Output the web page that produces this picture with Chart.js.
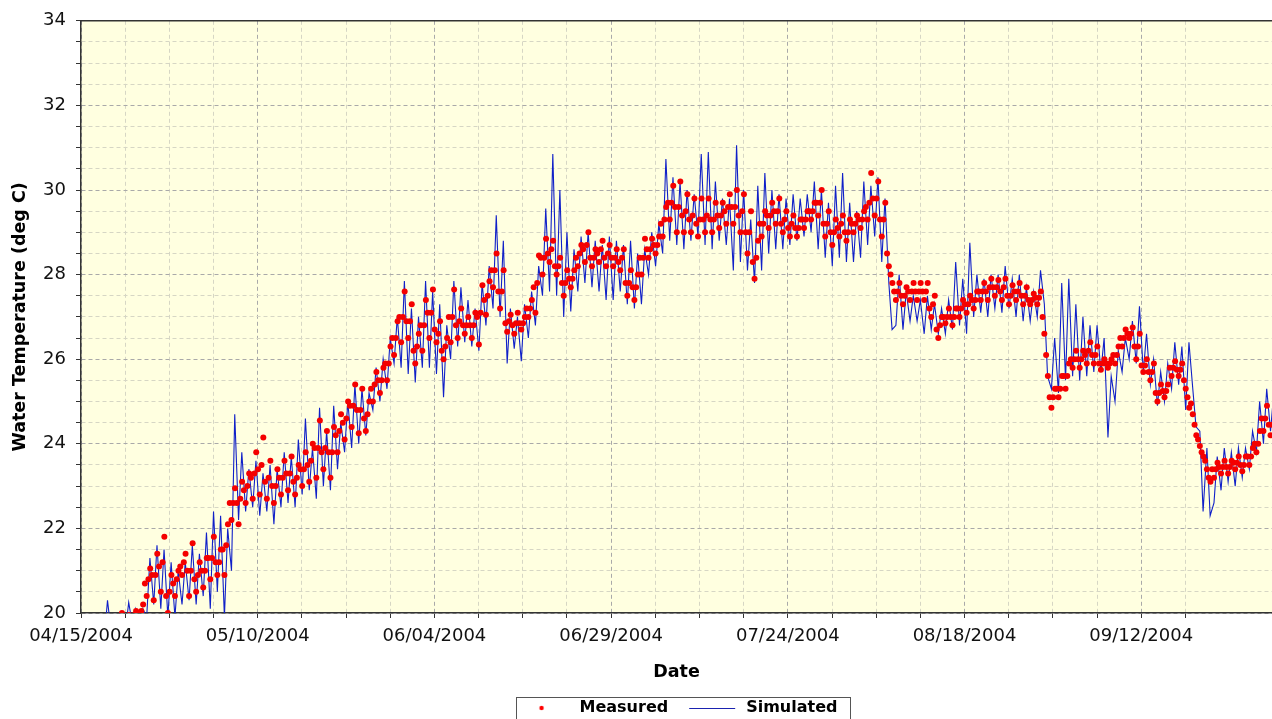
<!DOCTYPE html>
<html>
<head>
<meta charset="utf-8">
<title>Water Temperature</title>
<script src="https://cdn.jsdelivr.net/npm/chart.js@4/dist/chart.umd.min.js"></script>
<style>
  html, body { margin: 0; padding: 0; background: #fff; overflow: hidden; }
  #wrap { width: 1272px; height: 719px; overflow: hidden; }
</style>
</head>
<body>
<div id="wrap"><canvas id="tempChart" width="1272" height="726"></canvas></div>
<script>
// Day 0 of the x axis is 04/15/2004
const dateLabels = ['04/15/2004', '05/10/2004', '06/04/2004', '06/29/2004', '07/24/2004', '08/18/2004', '09/12/2004'];

// Measured: four readings per day (01:00, 07:00, 13:00, 19:00), first day = 4
const measuredFirstDay = 4;
const measuredHours = [1, 7, 13, 19];
const measured = [
  19.8,19.6,19.75,19.9, 19.9,19.8,19.9,20.0, 19.85,19.7,19.8,19.95, 19.9,19.8,19.95,20.05, 20.0,19.9,20.05,20.2,
  20.7,20.4,20.8,21.05, 20.9,20.3,20.9,21.4, 21.1,20.5,21.2,21.8, 20.4,20.0,20.5,20.9, 20.7,20.4,20.8,21.0,
  21.1,20.9,21.2,21.4, 21.0,20.4,21.0,21.65, 20.8,20.5,20.9,21.2, 21.0,20.6,21.0,21.3, 21.3,20.8,21.3,21.8,
  21.2,20.9,21.2,21.5, 21.5,20.9,21.6,22.1, 22.6,22.2,22.6,22.95, 22.6,22.1,22.7,23.1, 22.9,22.6,23.0,23.3,
  23.2,22.7,23.3,23.8, 23.4,22.8,23.5,24.15, 23.1,22.7,23.2,23.6, 23.0,22.6,23.0,23.4, 23.2,22.8,23.2,23.6,
  23.3,22.9,23.3,23.7, 23.1,22.8,23.2,23.5, 23.4,23.0,23.4,23.8, 23.5,23.1,23.6,24.0, 23.9,23.2,23.9,24.55,
  23.8,23.4,23.9,24.3, 23.8,23.2,23.8,24.4, 24.2,23.8,24.3,24.7, 24.5,24.1,24.6,25.0, 24.9,24.4,24.9,25.4,
  24.8,24.25,24.8,25.3, 24.6,24.3,24.7,25.0, 25.3,25.0,25.4,25.7, 25.5,25.2,25.5,25.8, 25.9,25.5,25.9,26.3,
  26.5,26.1,26.5,26.9, 27.0,26.4,27.0,27.6, 26.9,26.5,26.9,27.3, 26.2,25.9,26.3,26.6, 26.8,26.2,26.8,27.4,
  27.1,26.5,27.1,27.65, 26.7,26.4,26.6,26.9, 26.2,26.0,26.3,26.5, 27.0,26.4,27.0,27.65, 26.8,26.5,26.9,27.2,
  26.8,26.6,26.8,27.0, 26.8,26.5,26.8,27.1, 27.0,26.35,27.1,27.75, 27.4,27.05,27.5,27.84, 28.1,27.7,28.1,28.5,
  27.6,27.2,27.6,28.1, 26.85,26.65,26.9,27.05, 26.8,26.6,26.85,27.1, 26.85,26.7,26.85,27.0, 27.2,27.0,27.2,27.4,
  27.7,27.1,27.8,28.45, 28.4,28.0,28.4,28.85, 28.5,28.3,28.6,28.8, 28.2,28.0,28.2,28.4, 27.8,27.5,27.8,28.1,
  27.9,27.7,27.9,28.1, 28.4,28.2,28.5,28.7, 28.6,28.3,28.7,29.0, 28.4,28.2,28.4,28.6, 28.5,28.3,28.6,28.8,
  28.4,28.2,28.5,28.7, 28.4,28.2,28.4,28.6, 28.3,28.1,28.4,28.6, 27.8,27.5,27.8,28.1, 27.7,27.4,27.7,28.0,
  28.4,28.0,28.4,28.85, 28.6,28.4,28.6,28.85, 28.7,28.5,28.7,28.9, 29.2,28.9,29.3,29.6, 29.7,29.3,29.7,30.1,
  29.6,29.0,29.6,30.2, 29.4,29.0,29.5,29.9, 29.3,29.0,29.4,29.8, 29.2,28.9,29.3,29.8, 29.3,29.0,29.4,29.8,
  29.3,29.0,29.3,29.7, 29.4,29.1,29.4,29.7, 29.5,29.2,29.6,29.9, 29.6,29.2,29.6,30.0, 29.4,29.0,29.5,29.9,
  29.0,28.5,29.0,29.5, 28.3,27.9,28.4,28.8, 29.2,28.9,29.2,29.5, 29.4,29.1,29.4,29.7, 29.5,29.2,29.5,29.8,
  29.2,29.0,29.3,29.5, 29.1,28.9,29.2,29.4, 29.1,28.9,29.1,29.3, 29.3,29.1,29.3,29.5, 29.5,29.3,29.5,29.7,
  29.7,29.4,29.7,30.0, 29.2,28.9,29.2,29.5, 29.0,28.7,29.0,29.3, 29.1,28.9,29.2,29.4, 29.0,28.8,29.0,29.3,
  29.2,29.0,29.2,29.4, 29.3,29.1,29.3,29.5, 29.6,29.3,29.7,30.4, 29.8,29.4,29.8,30.2, 29.3,28.9,29.3,29.7,
  28.5,28.2,28.0,27.8, 27.6,27.4,27.6,27.8, 27.5,27.3,27.5,27.7, 27.6,27.4,27.6,27.8, 27.6,27.4,27.6,27.8,
  27.6,27.4,27.6,27.8, 27.2,27.0,27.3,27.5, 26.7,26.5,26.8,27.0, 27.0,26.85,27.0,27.2, 27.0,26.8,27.0,27.2,
  27.2,27.0,27.2,27.4, 27.3,27.1,27.3,27.5, 27.4,27.2,27.4,27.6, 27.6,27.4,27.6,27.8, 27.6,27.4,27.7,27.9,
  27.7,27.5,27.7,27.87, 27.6,27.4,27.7,27.9, 27.5,27.3,27.5,27.75, 27.6,27.4,27.6,27.8, 27.5,27.3,27.5,27.7,
  27.4,27.3,27.4,27.55, 27.45,27.3,27.45,27.6, 27.0,26.6,26.1,25.6, 25.1,24.85,25.1,25.3, 25.3,25.1,25.3,25.6,
  25.6,25.3,25.6,25.9, 26.0,25.8,26.0,26.2, 26.0,25.8,26.0,26.2, 26.1,25.9,26.2,26.4, 26.1,25.9,26.1,26.3,
  25.9,25.75,25.9,26.0, 25.9,25.8,25.9,26.0, 26.1,25.9,26.1,26.3, 26.5,26.3,26.5,26.7, 26.6,26.5,26.6,26.75,
  26.3,26.0,26.3,26.6, 25.85,25.7,25.85,26.0, 25.7,25.5,25.7,25.9, 25.2,25.0,25.2,25.4, 25.25,25.1,25.25,25.4,
  25.8,25.6,25.8,25.95, 25.75,25.6,25.75,25.9, 25.5,25.3,25.1,24.85, 24.95,24.7,24.45,24.2, 24.1,23.95,23.8,23.7,
  23.6,23.4,23.2,23.1, 23.4,23.2,23.4,23.55, 23.45,23.3,23.45,23.6, 23.45,23.3,23.45,23.6, 23.55,23.4,23.55,23.7,
  23.5,23.35,23.5,23.7, 23.7,23.5,23.7,23.9, 24.0,23.8,24.0,24.3, 24.6,24.3,24.6,24.9, 24.45,24.2,24.45,24.7
];

// Simulated: two values per day (07:00, 18:00), first day = 0
const simulatedFirstDay = 0;
const simulatedHours = [7, 18];
const simulated = [
  19.2,19.7, 19.3,19.8, 19.2,19.9, 19.4,20.3, 19.5,19.9,
  19.5,19.9, 19.6,20.25, 19.7,20.1, 19.8,20.1, 19.9,21.3,
  20.2,21.6, 20.1,21.5, 19.9,21.2, 19.9,21.0, 20.2,21.2,
  20.3,21.6, 20.2,21.4, 20.4,21.9, 20.1,22.4, 20.5,22.3,
  19.9,22.0, 21.0,24.7, 22.2,23.8, 22.4,23.4, 22.5,23.6,
  22.3,23.3, 22.4,23.5, 22.1,23.4, 22.5,23.8, 22.6,23.7,
  22.5,24.1, 22.8,24.6, 22.9,23.9, 22.7,24.85, 23.0,24.3,
  22.9,24.9, 23.4,24.5, 23.8,25.0, 23.9,25.4, 24.0,25.3,
  24.2,25.2, 24.8,25.8, 25.0,26.0, 25.3,26.5, 25.9,27.0,
  25.8,27.85, 25.65,27.2, 25.45,27.0, 25.8,27.85, 25.8,27.6,
  25.65,27.3, 25.1,26.8, 26.0,27.85, 26.3,27.7, 26.4,27.4,
  26.3,27.2, 26.2,27.8, 26.8,28.2, 27.2,29.4, 27.0,28.8,
  25.9,27.2, 26.25,27.0, 25.95,27.3, 26.5,27.6, 26.8,28.2,
  27.5,29.56, 27.6,30.85, 27.5,30.0, 27.0,29.0, 27.13,28.6,
  27.6,28.9, 27.8,29.0, 27.7,28.8, 27.6,28.7, 27.4,28.9,
  27.4,28.8, 27.6,28.7, 27.3,28.8, 27.2,28.5, 27.3,28.6,
  28.0,29.0, 28.2,29.2, 28.5,30.73, 28.8,30.3, 28.7,30.2,
  28.6,30.0, 28.8,29.9, 28.9,30.85, 28.7,30.9, 28.6,30.2,
  28.8,29.8, 28.7,29.8, 28.1,31.06, 28.3,30.0, 28.1,29.3,
  27.8,30.1, 28.1,30.4, 28.5,30.0, 28.6,29.9, 28.6,29.8,
  28.7,29.9, 28.8,29.8, 28.9,29.9, 29.0,30.2, 28.6,30.0,
  28.4,29.7, 28.2,30.1, 28.4,30.4, 28.3,29.7, 28.3,29.5,
  28.4,30.2, 28.7,30.1, 28.9,30.3, 28.3,29.8, 27.8,26.7,
  26.8,28.0, 26.7,27.6, 26.9,27.5, 26.9,27.4, 26.6,27.5,
  26.7,27.3, 26.6,27.2, 26.6,27.4, 26.7,28.3, 26.8,27.9,
  26.6,28.75, 27.0,28.0, 27.1,27.9, 27.0,28.0, 27.2,28.0,
  27.1,28.2, 27.2,27.9, 27.0,28.0, 26.9,27.7, 26.9,27.6,
  27.0,28.1, 27.3,25.6, 25.3,26.5, 25.2,27.8, 25.5,27.9,
  25.6,27.3, 25.5,27.0, 25.6,26.8, 25.7,26.8, 25.7,26.5,
  24.15,25.6, 25.0,26.2, 25.7,26.5, 26.0,26.9, 25.9,27.25,
  25.7,26.6, 25.4,26.0, 24.9,25.7, 25.0,25.9, 25.3,26.4,
  25.4,26.3, 24.8,26.4, 25.3,24.4, 24.3,22.4, 23.9,22.3,
  22.6,23.7, 22.9,23.9, 23.1,23.8, 23.0,23.9, 23.2,23.9,
  23.4,24.3, 23.8,25.0, 24.0,25.3, 24.3,25.2
];

// turn a flat list of readings into {x: day, y: value} points
function toPoints(values, firstDay, hours) {
    return values.map((v, i) => ({
        x: firstDay + Math.floor(i / hours.length) + hours[i % hours.length] / 24,
        y: v
    }));
}

// small legend icons: red dot and blue line
function makeIcon(draw) {
    const c = document.createElement('canvas');
    c.width = 56;
    c.height = 16;
    draw(c.getContext('2d'));
    return c;
}
const legendIcons = [
    makeIcon(g => { g.fillStyle = '#ff0000'; g.beginPath(); g.arc(26, 8, 2.2, 0, Math.PI * 2); g.fill(); }),
    makeIcon(g => { g.strokeStyle = '#1a22b0'; g.lineWidth = 1; g.beginPath(); g.moveTo(7, 8.5); g.lineTo(53, 8.5); g.stroke(); })
];

// plot background, top frame line and the box round the legend
const plotFrame = {
    id: 'plotFrame',
    beforeDraw(chart) {
        const { ctx, chartArea: a } = chart;
        ctx.save();
        ctx.fillStyle = '#ffffe0';
        ctx.fillRect(a.left, a.top, a.right - a.left, a.bottom - a.top);
        ctx.restore();
    },
    afterDraw(chart) {
        const { ctx, chartArea: a } = chart;
        ctx.save();
        ctx.strokeStyle = '#333';
        ctx.lineWidth = 1.5;
        ctx.beginPath();
        ctx.moveTo(a.left, a.top);
        ctx.lineTo(a.right, a.top);
        ctx.stroke();

        const hb = chart.legend.legendHitBoxes;
        if (hb && hb.length) {
            const last = hb[hb.length - 1];
            const left = Math.round(hb[0].left);
            const right = Math.round(last.left + last.width) + 13;
            const top = Math.round(hb[0].top) - 3;
            ctx.strokeStyle = '#555';
            ctx.lineWidth = 1;
            ctx.strokeRect(left + 0.5, top + 0.5, right - left, 40);
        }
        ctx.restore();
    }
};

const tickFont = { family: 'DejaVu Sans', size: 18 };
const titleFont = { family: 'DejaVu Sans', size: 17.5, weight: 'bold' };

new Chart(document.getElementById('tempChart'), {
    type: 'scatter',
    data: {
        datasets: [
            {
                label: 'Measured',
                data: toPoints(measured, measuredFirstDay, measuredHours),
                showLine: false,
                pointRadius: 3,
                pointBorderWidth: 0,
                pointBackgroundColor: '#f40000',
                pointBorderColor: '#f40000',
                clip: 0
            },
            {
                label: 'Simulated',
                data: toPoints(simulated, simulatedFirstDay, simulatedHours),
                showLine: true,
                borderColor: '#1020c8',
                borderWidth: 1.1,
                pointRadius: 0,
                tension: 0,
                clip: 0
            }
        ]
    },
    options: {
        responsive: false,
        animation: false,
        events: [],
        layout: { autoPadding: false, padding: { top: 18, right: 0, left: 0, bottom: 0 } },
        plugins: {
            tooltip: { enabled: false },
            legend: {
                position: 'bottom',
                fullSize: false,
                labels: {
                    usePointStyle: true,
                    pointStyleWidth: 56,
                    boxHeight: 16,
                    padding: 14,
                    color: '#000',
                    font: { family: 'DejaVu Sans', size: 16, weight: 'bold' },
                    generateLabels(chart) {
                        const items = Chart.defaults.plugins.legend.labels.generateLabels(chart);
                        items.forEach((it, i) => { it.pointStyle = legendIcons[i]; });
                        return items;
                    }
                }
            }
        },
        scales: {
            x: {
                type: 'linear',
                min: 0,
                max: 168.5,
                afterFit(scale) {
                    scale.height = 73;
                    scale.paddingRight = 0; // plot runs to the right edge
                },
                ticks: {
                    stepSize: 6.25,
                    autoSkip: false,
                    maxRotation: 0,
                    maxTicksLimit: 100,
                    padding: 8,
                    color: '#111',
                    font: tickFont,
                    callback: v => (v % 25 === 0 ? dateLabels[v / 25] : '')
                },
                grid: {
                    color: ctx => (ctx.tick && ctx.tick.value % 25 === 0 ? '#a9a9a9' : '#d6d6c4'),
                    tickColor: '#333',
                    tickLength: 5,
                    lineWidth: 1
                },
                border: { color: '#333', width: 1.5, dash: [4, 3] },
                title: {
                    display: true,
                    text: 'Date',
                    color: '#000',
                    font: titleFont,
                    padding: { top: 0, bottom: 3 }
                }
            },
            y: {
                min: 20,
                max: 34,
                afterFit(scale) { scale.width = 81; },
                ticks: {
                    stepSize: 0.5,
                    autoSkip: false,
                    maxTicksLimit: 100,
                    padding: 10,
                    color: '#111',
                    font: tickFont,
                    callback: v => (v % 2 === 0 ? String(v) : '')
                },
                grid: {
                    color: ctx => (ctx.tick && ctx.tick.value % 2 === 0 ? '#a9a9a9' : '#d6d6c4'),
                    tickColor: '#333',
                    tickLength: 5,
                    lineWidth: 1
                },
                border: { color: '#333', width: 1.5, dash: [4, 3] },
                title: {
                    display: true,
                    text: 'Water Temperature (deg C)',
                    color: '#000',
                    font: titleFont,
                    padding: { top: 10, bottom: 0 }
                }
            }
        }
    },
    plugins: [plotFrame]
});
</script>
</body>
</html>
